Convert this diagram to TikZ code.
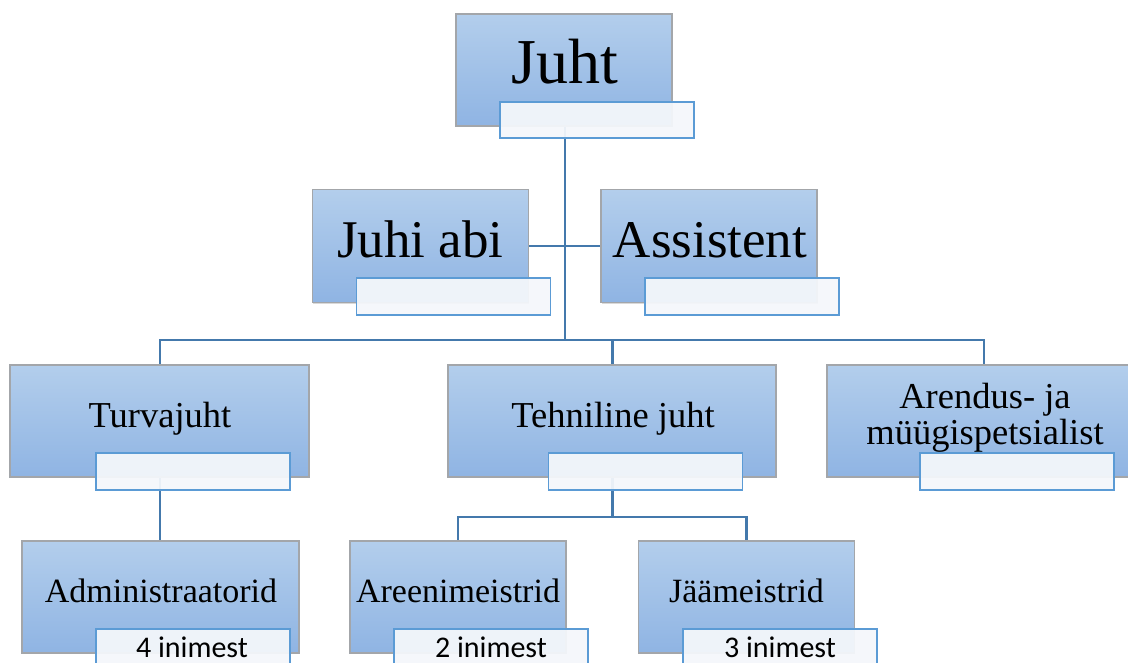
\documentclass[tikz,border=0pt]{standalone}
\usepackage{fontspec}
\setmainfont{Liberation Serif}
\newfontfamily\notefont{Carlito}
\usetikzlibrary{shadows}
\definecolor{boxtop}{HTML}{B3CEEC}
\definecolor{boxbot}{HTML}{8FB4E3}
\definecolor{boxrim}{HTML}{A3A6AA}
\definecolor{subrim}{HTML}{5B9BD5}
\definecolor{subfill}{HTML}{F4F7FB}
\definecolor{wire}{HTML}{4479AC}
\tikzset{
  role/.style={rectangle, inner sep=0pt, outer sep=0pt, draw=boxrim, line width=1.6pt,
    top color=boxtop, bottom color=boxbot,
    drop shadow={shadow xshift=0.8pt, shadow yshift=-1.2pt, opacity=0.25, fill=black!60}},
  subbox/.style={rectangle, inner sep=0pt, outer sep=0pt, draw=subrim, line width=1.3pt,
    fill=subfill, fill opacity=0.94, text opacity=1, minimum width=194pt, minimum height=37pt},
  wireline/.style={draw=wire, line width=2.9pt},
  bigtxt/.style={anchor=base, inner sep=0pt, font=\fontsize{64}{70}\selectfont},
  midtxt/.style={anchor=base, inner sep=0pt, font=\fontsize{53}{58}\selectfont},
  lvltxt/.style={anchor=base, inner sep=0pt, font=\fontsize{36.5}{37}\selectfont},
  lowtxt/.style={anchor=base, inner sep=0pt, font=\fontsize{34}{38}\selectfont},
  notetxt/.style={anchor=base, inner sep=0pt, font=\notefont\fontsize{30}{32}\selectfont},
}
\begin{document}
\begin{tikzpicture}[x=1pt, y=-1pt]
\useasboundingbox (0,0) rectangle (1128,662);
\begin{scope}
\clip (0,0) rectangle (1128,662);

% junction points of the connector tree
\coordinate (bus) at (565,340);
\coordinate (fork) at (612.5,517);

% connectors (drawn first, boxes sit on top)
\path[wireline] (565,70) -- (bus);
\path[wireline] (420,246) -- (709,246);
\path[wireline] (160,421) |- (bus) -| (984,421);
\path[wireline] (612.5,421) -- (612.5,340);
\path[wireline] (160,421) -- (160,597);
\path[wireline] (612.5,421) -- (fork);
\path[wireline] (458,597) |- (fork) -| (746.5,597);

% main role boxes
\node[role, minimum width=216pt, minimum height=112pt] (juht) at (564,70) {};
\node[role, minimum width=216pt, minimum height=113pt] (abi) at (420.5,246) {};
\node[role, minimum width=216pt, minimum height=113pt] (asst) at (709,246) {};
\node[role, minimum width=299pt, minimum height=112pt] (turva) at (159.5,421) {};
\node[role, minimum width=328pt, minimum height=112pt] (tehn) at (612,421) {};
\node[role, minimum width=314pt, minimum height=112pt] (arendus) at (984,421) {};
\node[role, minimum width=277pt, minimum height=112pt] (admin) at (160.5,597) {};
\node[role, minimum width=216pt, minimum height=112pt] (areen) at (458,597) {};
\node[role, minimum width=216pt, minimum height=112pt] (jaa) at (746.5,597) {};

% role titles
\node[bigtxt] (juht-t) at (565,83) {Juht};
\node[midtxt] (abi-t) at (420.5,257) {Juhi abi};
\node[midtxt] (asst-t) at (710,257) {Assistent};
\node[lvltxt] (turva-t) at (160,427) {Turvajuht};
\node[lvltxt] (tehn-t) at (613,427) {Tehniline juht};
\node[lvltxt] (arendus-t1) at (985,408) {Arendus- ja};
\node[lvltxt] (arendus-t2) at (985,444) {müügispetsialist};
\node[lowtxt] (admin-t) at (161,602) {Administraatorid};
\node[lowtxt] (areen-t) at (458,602) {Areenimeistrid};
\node[lowtxt] (jaa-t) at (746.5,602) {Jäämeistrid};

% caption boxes
\node[subbox, minimum height=36pt] (juht-s) at (597,120) {};
\node[subbox] (abi-s) at (453.5,296.5) {};
\node[subbox] (asst-s) at (742,296.5) {};
\node[subbox] (turva-s) at (193,471.5) {};
\node[subbox] (tehn-s) at (645.5,471.5) {};
\node[subbox] (arendus-s) at (1017,471.5) {};
\node[subbox] (admin-s) at (193,647.5) {};
\node[subbox] (areen-s) at (491,647.5) {};
\node[subbox] (jaa-s) at (780,647.5) {};

% caption texts
\node[notetxt] (admin-n) at (192,657) {4 inimest};
\node[notetxt] (areen-n) at (491,657) {2 inimest};
\node[notetxt] (jaa-n) at (780,657) {3 inimest};
\end{scope}
\end{tikzpicture}
\end{document}
